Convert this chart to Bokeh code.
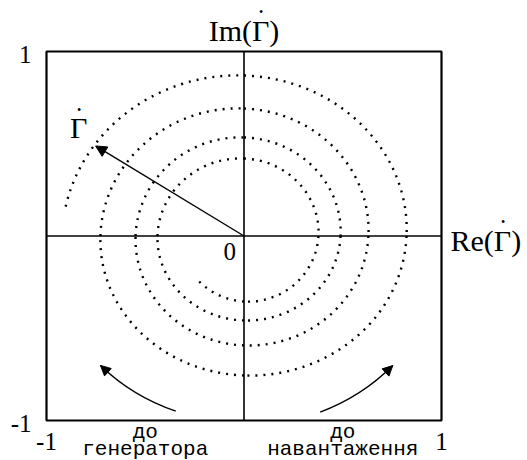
import numpy as np
from bokeh.plotting import figure
from bokeh.models import Range1d, Arrow, NormalHead
from bokeh.core.properties import value
from bokeh.embed import file_html
from bokeh.resources import INLINE

# Reflection coefficient along the line: phase (unwrapped, degrees, clockwise
# = towards the generator) and magnitude |Γ| read at every quarter turn.
spiral_angle_deg = [170, 90, 0, -90, -180, -270, -360, -450, -540,
                    -630, -720, -810, -900, -990, -1080, -1170, -1217]
spiral_radius = [0.917, 0.870, 0.823, 0.756, 0.727, 0.691, 0.630, 0.593, 0.549,
                 0.534, 0.489, 0.458, 0.438, 0.420, 0.377, 0.355, 0.333]

# The vector Γ drawn from the origin
gamma_magnitude = 0.896
gamma_angle_deg = 147

# Direction-of-travel arrows (arcs round the origin)
rotation_labels_top = ["до", "до"]
rotation_labels_bottom = ["генератора", "навантаження"]
rotation_radius = [1.01, 1.03]
rotation_start_deg = [-110, -68]
rotation_end_deg = [-136, -43]

tick_values = [-1, 1]
tick_labels = ["-1", "1"]

# ---- layout: pixel margins around the unit square ---------------------------
W, H = 527, 460
LEFT, RIGHT, TOP, BOTTOM = 46, 86, 51, 40
sx = (W - LEFT - RIGHT) / 2.0
sy = (H - TOP - BOTTOM) / 2.0

p = figure(width=W, height=H, output_backend="svg", toolbar_location=None,
           x_axis_location=None, y_axis_location=None,
           x_range=Range1d(-1 - LEFT / sx, 1 + RIGHT / sx),
           y_range=Range1d(-1 - BOTTOM / sy, 1 + TOP / sy),
           min_border=0, outline_line_color=None)
p.xgrid.visible = False
p.ygrid.visible = False
p.background_fill_color = "white"
p.border_fill_color = "white"

SERIF = value("Liberation Serif")
MONO = value("Liberation Mono")
FS = 30  # font size of the Γ labels, px

# frame and axes
p.quad(left=[-1], right=[1], bottom=[-1], top=[1], fill_color=None,
       line_color="black", line_width=2.2)
p.segment(x0=[0, -1], y0=[-1, 0], x1=[0, 1], y1=[1, 0],
          line_color="black", line_width=1.6)


def bezier_path(theta, radius, slope):
    """Cubic Bezier pieces through polar readings with C1 joins."""
    x = radius * np.cos(theta)
    y = radius * np.sin(theta)
    dx = radius * (slope * np.cos(theta) - np.sin(theta))
    dy = radius * (slope * np.sin(theta) + np.cos(theta))
    h = np.diff(theta)
    f = 4.0 / 3.0 * np.tan(h / 4.0)
    return dict(x0=x[:-1], y0=y[:-1], x1=x[1:], y1=y[1:],
                cx0=x[:-1] + f * dx[:-1], cy0=y[:-1] + f * dy[:-1],
                cx1=x[1:] - f * dx[1:], cy1=y[1:] - f * dy[1:])


def gamma_text(x, y, head, align, dx, dy):
    """Write head + 'Γ' + tail with a dot placed over the Γ.

    Advance widths follow Times metrics: '(' and ')' are 1/3 em, 'I' 1/3,
    'm' .778, 'R' .667, 'e' .444, 'Γ' .578.
    """
    widths = {"I": 0.333, "m": 0.778, "R": 0.667, "e": 0.444, "(": 0.333,
              ")": 0.333, "Γ": 0.578}
    text = head + "Γ" + (")" if head else "")
    total = sum(widths[c] for c in text) * FS
    start = dx - (total / 2 if align == "center" else 0)
    gamma_c = start + sum(widths[c] for c in head) * FS + widths["Γ"] * FS / 2
    p.text(x=[x], y=[y], text=[text], text_font=SERIF, text_font_size=f"{FS}px",
           text_align=align, text_baseline="middle", x_offset=dx, y_offset=dy,
           text_color="black")
    # the dot over Γ: a small bullet just above the cap line
    p.text(x=[x], y=[y], text=["\u2022"], text_font=SERIF, text_font_size="12px",
           text_align="center", text_baseline="middle", x_offset=gamma_c + 0.5,
           y_offset=dy - 0.5 * FS - 3, text_color="black")


th = np.radians(spiral_angle_deg)
rr = np.array(spiral_radius)
k = np.gradient(np.log(rr), th)
p.bezier(**bezier_path(th, rr, k), line_color="black", line_width=2.4,
         line_dash="2 6")

# vector Γ
ga = np.radians(gamma_angle_deg)
gx, gy = gamma_magnitude * np.cos(ga), gamma_magnitude * np.sin(ga)
p.add_layout(Arrow(x_start=0, y_start=0, x_end=gx, y_end=gy,
                   line_color="black", line_width=1.4,
                   end=NormalHead(size=11, fill_color="black", line_color="black",
                                  line_width=1)))
gamma_text(gx, gy, "", "center", -17, -18)

# direction arrows
for R, a0, a1 in zip(rotation_radius, rotation_start_deg, rotation_end_deg):
    t = np.radians([a0, a1])
    p.bezier(**bezier_path(t, np.array([R, R]), np.zeros(2)),
             line_color="black", line_width=1.4)
    tb = np.radians(a1 - np.sign(a1 - a0) * 3)
    p.add_layout(Arrow(x_start=R * np.cos(tb), y_start=R * np.sin(tb),
                       x_end=R * np.cos(t[1]), y_end=R * np.sin(t[1]),
                       line_alpha=0,
                       end=NormalHead(size=10, fill_color="black",
                                      line_color="black", line_width=1)))

half_centres = [-0.5, 0.5]
p.text(x=half_centres, y=[-1, -1], text=rotation_labels_top, text_font=MONO,
       text_font_size="21px", text_align="center", text_baseline="middle",
       y_offset=12, text_color="black")
p.text(x=half_centres, y=[-1, -1], text=rotation_labels_bottom, text_font=MONO,
       text_font_size="21px", text_align="center", text_baseline="middle",
       y_offset=29, text_color="black")

# axis titles
gamma_text(0, 1, "Im(", "center", 0, -21.5)
gamma_text(1, 0, "Re(", "left", 9, 4)

# tick labels
p.text(x=[-1, -1], y=tick_values, text=tick_labels, text_font=SERIF,
       text_font_size="25px", text_align="right", text_baseline="middle",
       x_offset=-15, y_offset=3, text_color="black")
p.text(x=tick_values, y=[-1, -1], text=tick_labels, text_font=SERIF,
       text_font_size="25px", text_align="center", text_baseline="middle",
       y_offset=21, text_color="black")
p.text(x=[0], y=[0], text=["0"], text_font=SERIF, text_font_size="25px",
       text_align="right", text_baseline="top", x_offset=-8, y_offset=7,
       text_color="black")

open("out.html", "w").write(file_html(p, INLINE))
